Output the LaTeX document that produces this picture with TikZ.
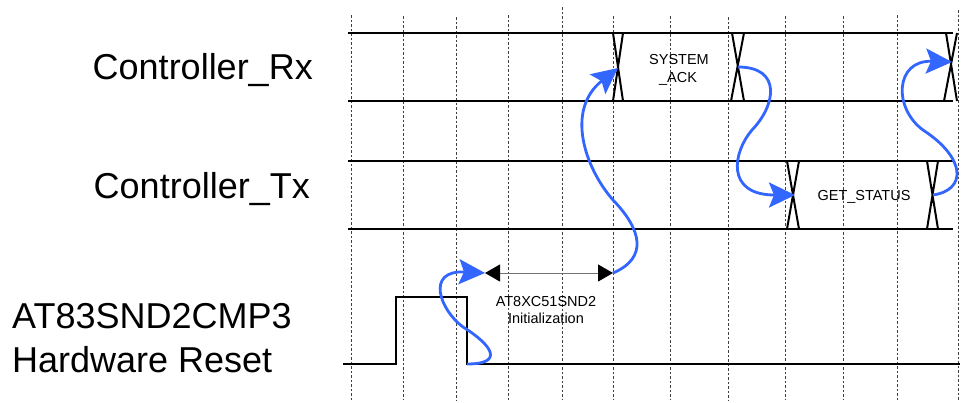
\documentclass[tikz,border=0pt]{standalone}
\usepackage{fontspec}
\setmainfont{Liberation Sans}
\usetikzlibrary{arrows.meta}
\definecolor{flow}{RGB}{51,102,255}
\tikzset{
  grid/.style={black!75, line width=0.8pt, dash pattern=on 2.5pt off 2pt},
  sig/.style={black, line width=2.2pt, line join=miter},
  cross/.style={black, line width=2pt},
  flowarrow/.style={flow, line width=2.8pt, -{Stealth[length=26pt,width=25pt,inset=5pt]}},
  biglabel/.style={font=\fontsize{36}{40}\selectfont, inner sep=0pt},
  smalllabel/.style={font=\fontsize{14.5}{17}\selectfont, inner sep=0pt},
  spanarrow/.style={black!55, line width=1pt, {Triangle[length=15pt,width=17pt,color=black]}-{Triangle[length=15pt,width=17pt,color=black]}}
}
\begin{document}
\begin{tikzpicture}[x=1pt,y=-1pt]
\useasboundingbox (0,0) rectangle (962,402);
% vertical dashed grid
\foreach \gx/\gt in {351/15,403/16,456/17,508/15,562/7,613/16,670/16,728/17,785/16,843/16,897/15,958/10}
  \draw[grid] (\gx,\gt) -- (\gx,400);
% Controller_Rx bus
\draw[sig] (348,33) -- (953,33);
\draw[sig] (348,101) -- (953,101);
\draw[cross] (613,33) -- (623,101) (623,33) -- (613,101);
\draw[cross] (732,33) -- (744,101) (744,33) -- (731,101);
\draw[cross] (946,33) -- (957,101) (957,33) -- (944,101);
% Controller_Tx bus
\draw[sig] (348,161) -- (953,161);
\draw[sig] (348,229) -- (953,229);
\draw[cross] (787,161) -- (799,229) (799,161) -- (787,229);
\draw[cross] (927,161) -- (938,229) (938,161) -- (927,229);
% Reset signal
\draw[sig] (343,364) -- (396,364) -- (396,297) -- (467,297) -- (467,364) -- (960,364);
% labels
\node[biglabel, anchor=base east] (rx) at (313,79) {Controller\_Rx};
\node[biglabel, anchor=base east] (tx) at (310,198) {Controller\_Tx};
\node[biglabel, anchor=base west] (rst1) at (12,328) {AT83SND2CMP3};
\node[biglabel, anchor=base west] (rst2) at (12,372) {Hardware Reset};
\node[smalllabel, anchor=base] (sys) at (679,64) {SYSTEM};
\node[smalllabel, anchor=base] (ack) at (678,82) {\_ACK};
\node[smalllabel, anchor=base] (gst) at (864,200) {GET\_STATUS};
\node[smalllabel, anchor=base] (ini1) at (546,306) {AT8XC51SND2};
\node[smalllabel, anchor=base] (ini2) at (546,323) {Initialization};
% key points
\coordinate (fall) at (467,364);
\coordinate (initL) at (485,273);
\coordinate (initR) at (613,273);
\coordinate (rxA) at (618,68);
\coordinate (rxB) at (738,67);
\coordinate (txA) at (795,195);
\coordinate (txB) at (933,195);
\coordinate (rxC) at (952,62);
% init span arrow
\draw[spanarrow] (initL) -- (initR);
% blue flow curves
\draw[flowarrow] (fall) .. controls (505,364) and (492,345) .. (463,327)
  .. controls (440,310) and (425,270) .. (initL);
\draw[flowarrow] (initR) .. controls (648,258) and (642,230) .. (613,200)
  .. controls (585,168) and (565,110) .. (rxA);
\draw[flowarrow] (rxB) .. controls (782,67) and (776,105) .. (752,130)
  .. controls (733,152) and (725,195) .. (txA);
\draw[flowarrow] (txB) .. controls (967,190) and (966,158) .. (923,130)
  .. controls (893,108) and (895,60) .. (rxC);
\end{tikzpicture}
\end{document}
